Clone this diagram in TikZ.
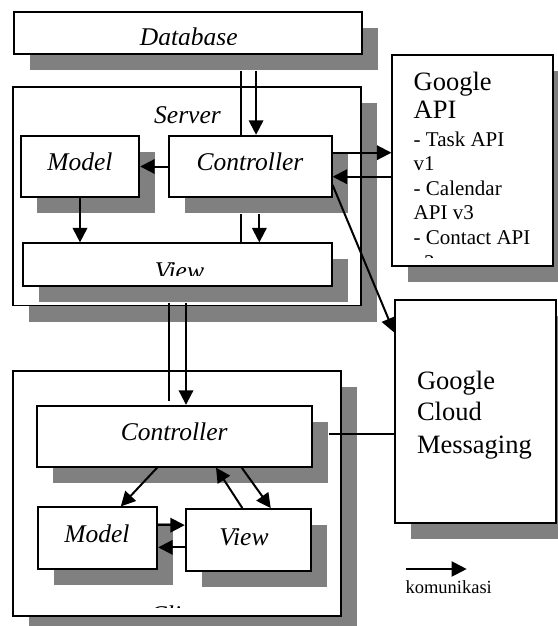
\documentclass[tikz,border=0pt]{standalone}
\usepackage{fontspec}
\setmainfont{Liberation Serif}
\usepackage{tikz}
\usetikzlibrary{calc, positioning, arrows.meta, shadows}
\definecolor{shadowgray}{HTML}{808080}

\begin{document}
\begin{tikzpicture}[x=1pt, y=-1pt, line width=2pt, >={Triangle[length=14.5pt, width=14.5pt]},
	box/.style={draw, fill=white, line width=1.8pt, inner sep=0pt,
		drop shadow={shadow xshift=16pt, shadow yshift=-16pt, fill=shadowgray, opacity=1}},
	lbl/.style={font=\fontsize{25.5}{28}\selectfont\itshape, anchor=base, inner sep=0pt},
	bigtxt/.style={font=\fontsize{26.5}{28}\selectfont, anchor=base west, inner sep=0pt},
	smalltxt/.style={font=\fontsize{21}{24}\selectfont, anchor=base west, inner sep=0pt}]
		\useasboundingbox (0,0) rectangle (557,626);

		\node[box, minimum width=347.7pt, minimum height=41.7pt] (Database) at (187.85,33.15) {};
		\begin{scope}
			\clip (Database.north west) rectangle ($(Database.south east)+(0,-10.5)$);
			\node[lbl] (dbLabel) at (188.8,45.5) {Database};
		\end{scope}

		\node[box, minimum width=347.7pt, minimum height=218.8pt] (Server) at (187.15,196.1) {};
		\node[lbl] (serverLabel) at (187.5,123) {Server};
		\node[box, minimum width=118.6pt, minimum height=61.6pt] (SModel) at (80,166.5) {};
		\node[lbl] (smLabel) at (80,170.7) {Model};
		\node[box, minimum width=162.7pt, minimum height=61.6pt] (SCtrl) at (250.35,166.5) {};
		\node[lbl] (scLabel) at (250,170.7) {Controller};
		\node[box, minimum width=309pt, minimum height=42.4pt] (SView) at (177.8,264.5) {};
		\begin{scope}
			\clip (SView.north west) rectangle ($(SView.south east)+(0,-10.7)$);
			\node[lbl] (svLabel) at (179.5,279) {View};
		\end{scope}

		\node[box, minimum width=160.4pt, minimum height=210.7pt] (GAPI) at (472.5,160.35) {};
		\begin{scope}
			\clip (GAPI.north west) rectangle ($(GAPI.south east)+(0,-9)$);
			\node[bigtxt] (api1) at (412.7,90) {Google};
			\node[bigtxt] (api2) at (412.7,118.3) {API};
			\node[smalltxt] (api3) at (412.7,146.7) {- Task API};
			\node[smalltxt] (api4) at (412.7,170.5) {v1};
			\node[smalltxt] (api5) at (412.7,195) {- Calendar};
			\node[smalltxt] (api6) at (412.7,219.3) {API v3};
			\node[smalltxt] (api7) at (412.7,244) {- Contact API};
			\node[smalltxt] (api8) at (412.7,269) {v3};
		\end{scope}

		\node[box, minimum width=160.7pt, minimum height=222.7pt] (GCM) at (475.35,411.35) {};
		\node[bigtxt] (gcm1) at (416,389.5) {Google};
		\node[bigtxt] (gcm2) at (416,420.5) {Cloud};
		\node[bigtxt] (gcm3) at (416,453) {Messaging};

		\node[box, minimum width=327.4pt, minimum height=245.3pt] (Client) at (177,493.35) {};
		\begin{scope}
			\clip (Client.north west) rectangle ($(Client.south east)+(0,-9.3)$);
			\node[lbl] (clientLabel) at (181,623) {Client};
		\end{scope}
		\node[box, minimum width=275pt, minimum height=61pt] (CCtrl) at (174.2,436.2) {};
		\node[lbl] (ccLabel) at (174.2,440.7) {Controller};
		\node[box, minimum width=119pt, minimum height=61.7pt] (CModel) at (97.8,538.15) {};
		\node[lbl] (cmLabel) at (97,542.3) {Model};
		\node[box, minimum width=125.3pt, minimum height=61.7pt] (CView) at (248.35,539.85) {};
		\node[lbl] (cvLabel) at (244,545) {View};

		% server side
		\draw ($(SCtrl.north |- Database.south)+(-9.3,16)$) -- ($(SCtrl.north)+(-9.3,0)$);
		\draw[->] ($(SCtrl.north |- Database.south)+(5.7,16)$) -- ($(SCtrl.north)+(5.7,0)$);
		\draw[->] (SCtrl.west) -- (SModel.east);
		\draw[->] (SModel.south) -- (SModel.south |- SView.north);
		\draw ($(SCtrl.south)+(-9.3,16)$) -- ($(SCtrl.south |- SView.north)+(-9.3,0)$);
		\draw[->] ($(SCtrl.south)+(9,16)$) -- ($(SCtrl.south |- SView.north)+(9,0)$);
		\draw[->] ($(SCtrl.east)+(0,-13.8)$) -- ($(SCtrl.east -| GAPI.west)+(0,-13.8)$);
		\draw[->] ($(SCtrl.east -| GAPI.west)+(0,10.2)$) -- ($(SCtrl.east)+(0,10.2)$);
		\draw[->] ($(SCtrl.east)+(0,18.5)$) -- ($(GCM.north west)+(0,33.3)$);

		% server to client
		\draw ($(SView.south)+(-8.8,16)$) -- ($(SView.south |- CCtrl.north)+(-8.8,-4)$);
		\draw[->] ($(SView.south)+(8.2,16)$) -- ($(SView.south |- CCtrl.north)+(8.2,0)$);
		\draw ($(CCtrl.east)+(16,-2.2)$) -- ($(CCtrl.east -| GCM.west)+(0,-2.2)$);

		% client side
		\draw[->] ($(CCtrl.south)+(-17,0)$) -- ($(CModel.north)+(23,0)$);
		\draw[->] ($(CView.north)+(-6,0)$) -- ($(CCtrl.south)+(41.8,0)$);
		\draw[->] ($(CCtrl.south)+(67.5,0)$) -- ($(CView.north)+(22.4,0)$);
		\draw[->] ($(CModel.east)+(0,-13)$) -- ($(CModel.east -| CView.west)+(0,-13)$);
		\draw[->] ($(CModel.east -| CView.west)+(0,9.2)$) -- ($(CModel.east)+(0,9.2)$);

		% legend
		\coordinate (legStart) at (405.7,569);
		\coordinate (legEnd) at (466.7,569);
		\draw[-{Triangle[length=15pt, width=15pt]}] (legStart) -- (legEnd);
		\node[font=\fontsize{18.5}{22}\selectfont, anchor=base, inner sep=0pt] (legLabel) at (448.7,593) {komunikasi};

	\end{tikzpicture}
\end{document}
